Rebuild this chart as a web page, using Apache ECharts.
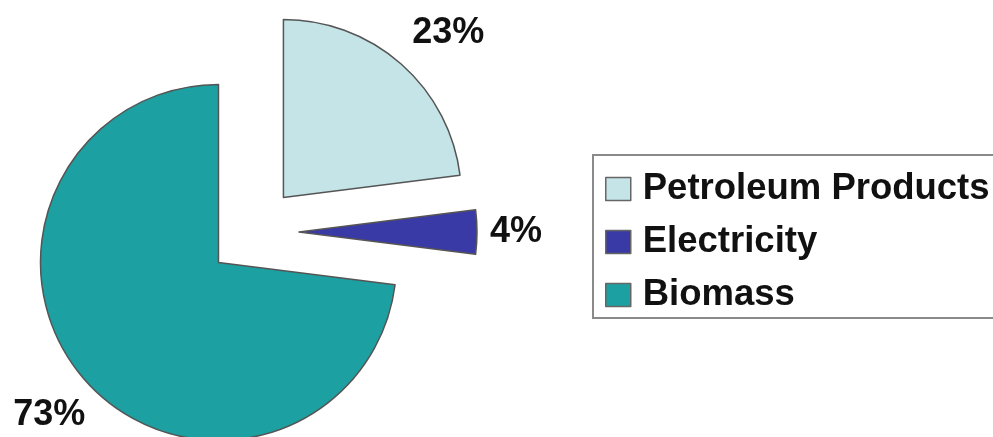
<!DOCTYPE html>
<html>
<head>
<meta charset="utf-8">
<script src="https://cdn.jsdelivr.net/npm/echarts@6/dist/echarts.min.js"></script>
<style>
html,body{margin:0;padding:0;background:#fff;}
#chart{width:993px;height:437px;}
</style>
</head>
<body>
<div id="chart"></div>
<script>
const categories = ['Petroleum Products', 'Electricity', 'Biomass'];
const values = [23, 4, 73];

// styling (not data)
const colors = ['#c4e4e8', '#3a3aa6', '#1ca0a2'];
const labelLineLengths = [41, 44, 53];
const labelDistances = [-16, -31, -40];

const chart = echarts.init(document.getElementById('chart'), null, {renderer: 'canvas'});
const data = categories.map((name, i) => ({
  name: name,
  value: values[i],
  selected: true,
  itemStyle: { color: colors[i] },
  label: { distanceToLabelLine: labelDistances[i] },
  labelLine: { length: labelLineLengths[i] }
}));

chart.setOption({
  backgroundColor: '#ffffff',
  animation: false,
  legend: {
    orient: 'vertical',
    left: 593,
    top: 155,
    padding: [14, 30, 3, 12],
    borderColor: '#8a8a8a',
    borderWidth: 2,
    itemWidth: 25,
    itemHeight: 23,
    itemGap: 13,
    icon: 'rect',
    itemStyle: { borderColor: '#666', borderWidth: 1.5 },
    textStyle: {
      fontFamily: 'Liberation Sans, Arial, sans-serif',
      fontWeight: 'bold',
      fontSize: 36.5,
      lineHeight: 40,
      color: '#111',
      padding: [0, 0, 0, 7]
    },
    selectedMode: false,
    data: categories
  },
  series: [{
    type: 'pie',
    center: [253, 232],
    radius: [0, 178],
    startAngle: 90,
    clockwise: true,
    selectedMode: 'multiple',
    selectedOffset: 46,
    avoidLabelOverlap: false,
    emphasis: { disabled: true },
    select: { itemStyle: { borderColor: '#555', borderWidth: 1.5 } },
    itemStyle: { borderColor: '#555', borderWidth: 1.5 },
    label: {
      show: true,
      position: 'outside',
      formatter: '{c}%',
      fontFamily: 'Liberation Sans, Arial, sans-serif',
      fontWeight: 'bold',
      fontSize: 36,
      color: '#111',
      distanceToLabelLine: -24
    },
    labelLine: { show: false, length: 44, length2: 0 },
    data: data
  }]
});
</script>
</body>
</html>
